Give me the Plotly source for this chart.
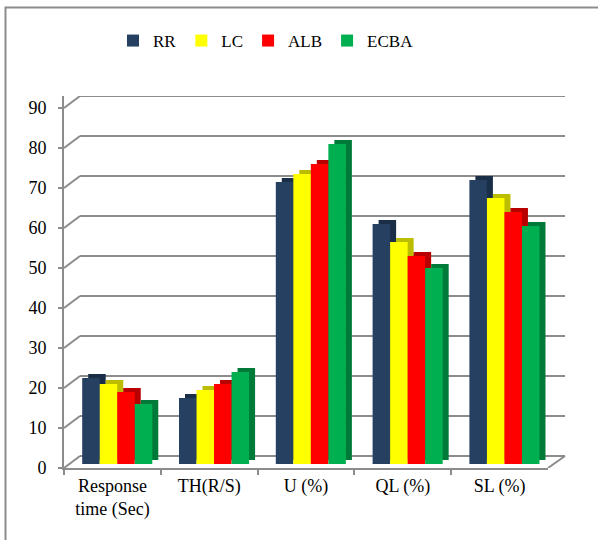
import plotly.graph_objects as go

W, H = 598, 540

categories = ["Response<br>time (Sec)", "TH(R/S)", "U (%)", "QL (%)", "SL (%)"]
series_names = ["RR", "LC", "ALB", "ECBA"]
rr = [21.5, 16.5, 70.5, 60, 71]
lc = [20, 18.5, 72.5, 55.5, 66.5]
alb = [18, 20, 75, 52, 63]
ecba = [15, 23, 80, 49, 59.5]
y_ticks = [0, 10, 20, 30, 40, 50, 60, 70, 80, 90]

series_values = [rr, lc, alb, ecba]
front_colors = ["#254061", "#FFFF00", "#FF0000", "#00B050"]
side_colors = ["#1A2E47", "#BDBD00", "#B80000", "#007A38"]

def px(x):
    return x / W

def py(y):
    return 1 - y / H

x_left, x_right = 64, 548     # front floor
back_dx = 16                  # depth offset in px (right)
depth_units = 3               # depth offset in value units (up)
cat_px = (x_right - x_left) / len(categories)
bar_w = 0.181
shift = 0.05
side_dx = 6 / cat_px
side_dy = 1.0

fig = go.Figure()

for i, (name, vals) in enumerate(zip(series_names, series_values)):
    off = -2 * bar_w + shift + i * bar_w
    fig.add_trace(go.Bar(
        x=categories, y=vals, base=side_dy, name=name + " side",
        width=bar_w, offset=off + side_dx,
        marker=dict(color=side_colors[i], line=dict(width=0)),
        xaxis="x", yaxis="y2", showlegend=False, hoverinfo="skip",
        cliponaxis=False,
    ))

for i, (name, vals) in enumerate(zip(series_names, series_values)):
    off = -2 * bar_w + shift + i * bar_w
    fig.add_trace(go.Bar(
        x=categories, y=vals, name=name,
        width=bar_w, offset=off,
        marker=dict(color=front_colors[i], line=dict(width=0)),
        xaxis="x", yaxis="y2", cliponaxis=False,
    ))

grid_col = "#8C8C8C"
shapes = []
for v in y_ticks:
    shapes.append(dict(type="line", xref="paper", yref="y",
                       x0=px(x_left + back_dx), x1=px(565),
                       y0=v + depth_units, y1=v + depth_units,
                       line=dict(color=grid_col, width=2), layer="below"))
    shapes.append(dict(type="line", xref="paper", yref="y",
                       x0=px(x_left), x1=px(x_left + back_dx),
                       y0=v, y1=v + depth_units,
                       line=dict(color=grid_col, width=2), layer="below"))
shapes.append(dict(type="line", xref="paper", yref="y",
                   x0=px(x_right), x1=px(565), y0=0, y1=depth_units,
                   line=dict(color=grid_col, width=2), layer="below"))
shapes.append(dict(type="rect", xref="paper", yref="paper",
                   x0=px(5.5), x1=1.02, y0=-0.02, y1=py(7.5),
                   line=dict(color="#8C8C8C", width=2), fillcolor="rgba(0,0,0,0)",
                   layer="below"))

serif = "Liberation Serif, Times New Roman, serif"
fig.update_layout(
    template="none",
    width=W, height=H, autosize=False,
    margin=dict(l=0, r=0, t=0, b=0, pad=0),
    paper_bgcolor="white", plot_bgcolor="rgba(0,0,0,0)",
    barmode="overlay",
    font=dict(family=serif, size=18, color="black"),
    shapes=shapes,
    legend=dict(orientation="h", x=px(266), xanchor="center",
                y=py(41), yanchor="middle",
                font=dict(family=serif, size=17, color="black"),
                itemwidth=30, traceorder="normal", bgcolor="rgba(0,0,0,0)"),
    xaxis=dict(type="category", categoryorder="array", categoryarray=categories,
               domain=[px(x_left), px(x_right)], range=[-0.5, 4.5],
               showline=True, linecolor=grid_col, linewidth=2,
               ticks="outside", tickson="boundaries", ticklen=5,
               tickcolor=grid_col, tickwidth=2, showgrid=False, zeroline=False,
               tickfont=dict(family=serif, size=18, color="black"),
               anchor="y", automargin=False, fixedrange=True),
    yaxis=dict(domain=[py(468), py(96)], range=[0, 93],
               tickvals=y_ticks, showgrid=False, zeroline=False,
               showline=True, linecolor=grid_col, linewidth=2,
               ticks="outside", ticklen=4, tickcolor=grid_col, tickwidth=2,
               ticklabelstandoff=8,
               tickfont=dict(family=serif, size=18, color="black"),
               anchor="x", automargin=False, fixedrange=True),
    yaxis2=dict(overlaying="y", range=[-1, 92], visible=False,
                showgrid=False, zeroline=False, automargin=False, fixedrange=True),
)

fig.write_html("out.html")
